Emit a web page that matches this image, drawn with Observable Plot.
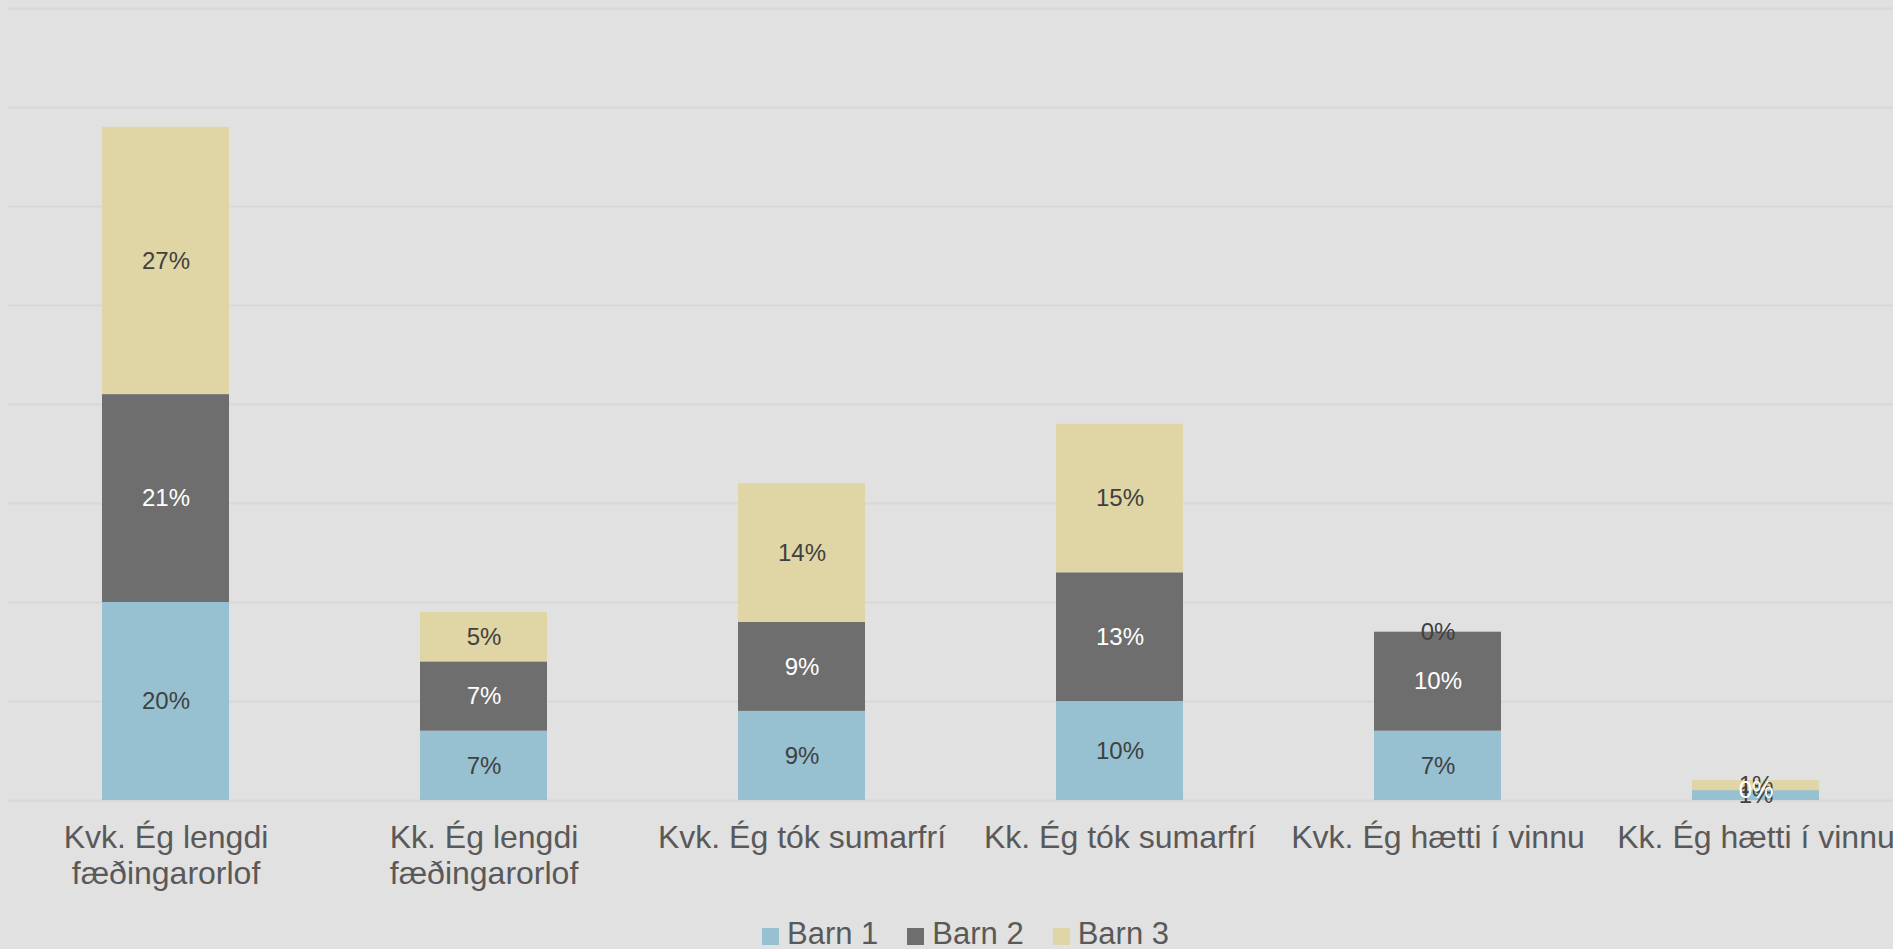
<!DOCTYPE html>
<html>
<head>
<meta charset="utf-8">
<script src="https://cdn.jsdelivr.net/npm/d3@7"></script>
<script src="https://cdn.jsdelivr.net/npm/@observablehq/plot@0.6"></script>
<style>
  html, body { margin: 0; padding: 0; background: #e1e1e1; overflow: hidden; }
  #wrap { position: relative; width: 1893px; height: 949px; }
  #legend { position: absolute; left: 762px; top: 919px; display: flex; align-items: center;
    font-family: "Liberation Sans", Arial, sans-serif; font-size: 31px; line-height: 30px; color: #595959; }
  #legend .item { display: flex; align-items: center; margin-right: 29px; }
  #legend .sw { width: 17px; height: 17px; margin-right: 8px; margin-top: 4px; }
</style>
</head>
<body>
<div id="wrap"><div id="chart"></div><div id="legend"></div></div>
<script>
const categories = [
  "Kvk. Ég lengdi\nfæðingarorlof",
  "Kk. Ég lengdi\nfæðingarorlof",
  "Kvk. Ég tók sumarfrí",
  "Kk. Ég tók sumarfrí",
  "Kvk. Ég hætti í vinnu",
  "Kk. Ég hætti í vinnu"
];
const seriesNames = ["Barn 1", "Barn 2", "Barn 3"];
const seriesColors = ["#97c0d0", "#6e6e6e", "#e0d5a4"];
const barn1 = [20, 7, 9, 10, 7, 1];
const barn2 = [21, 7, 9, 13, 10, 0];
const barn3 = [27, 5, 14, 15, 0, 1];
const yTicks = [0, 10, 20, 30, 40, 50, 60, 70, 80];

const seriesValues = [barn1, barn2, barn3];
const data = [];
seriesNames.forEach((s, si) => {
  categories.forEach((c, ci) => {
    data.push({category: c, series: s, value: seriesValues[si][ci]});
  });
});

const chart = Plot.plot({
  width: 1893,
  height: 915,
  marginTop: 8,
  marginBottom: 115,
  marginLeft: 8,
  marginRight: 0,
  style: {background: "#e1e1e1", fontFamily: "Liberation Sans, Arial, sans-serif", overflow: "visible"},
  x: {domain: categories, range: [6.4, 1915], paddingInner: 0.6, paddingOuter: 0.3, label: null},
  y: {domain: [0, 80], axis: null},
  color: {domain: seriesNames, range: seriesColors},
  marks: [
    Plot.ruleY(yTicks, {stroke: "#d8d8d8", strokeWidth: 2}),
    Plot.barY(data, Plot.stackY({x: "category", y: "value", fill: "series", order: seriesNames})),
    Plot.text(data, Plot.stackY({
      x: "category", y: "value", z: "series", order: seriesNames,
      text: d => d.series !== "Barn 2" ? d.value + "%" : "",
      fill: "#404040", fontSize: 24
    })),
    Plot.text(data, Plot.stackY({
      x: "category", y: "value", z: "series", order: seriesNames,
      text: d => d.series === "Barn 2" ? d.value + "%" : "",
      fill: "white", fontSize: 24
    })),
    Plot.axisX({tickSize: 0, tickPadding: 21, fontSize: 32, lineHeight: 1.15, fill: "#595959", label: null})
  ]
});
document.getElementById("chart").appendChild(chart);

const legend = document.getElementById("legend");
seriesNames.forEach((s, i) => {
  const item = document.createElement("div");
  item.className = "item";
  const sw = document.createElement("span");
  sw.className = "sw";
  sw.style.background = seriesColors[i];
  const t = document.createElement("span");
  t.textContent = s;
  item.appendChild(sw);
  item.appendChild(t);
  legend.appendChild(item);
});
</script>
</body>
</html>
